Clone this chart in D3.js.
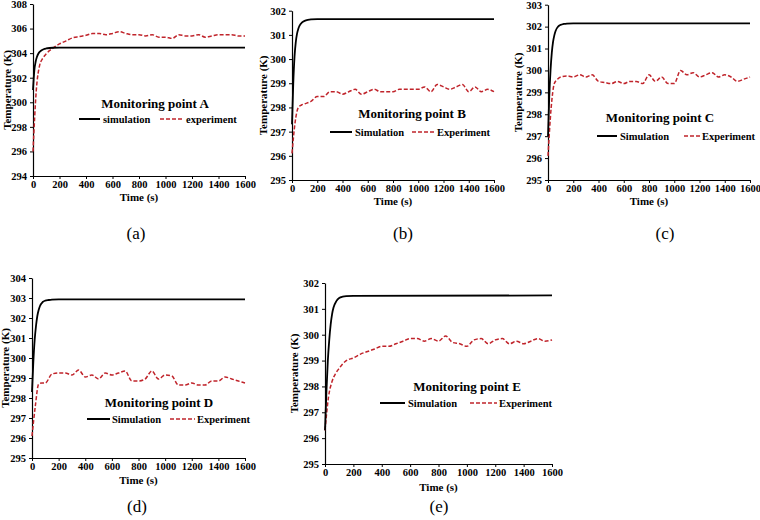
<!DOCTYPE html>
<html><head><meta charset="utf-8">
<script src="https://cdn.jsdelivr.net/npm/d3@7/dist/d3.min.js"></script>
<style>
html,body{margin:0;padding:0;background:#fff;}
svg text{font-family:"Liberation Serif","Times New Roman",serif;}
</style></head>
<body><svg id="c" width="760" height="520"></svg>
<script>
// ---------- data ----------
const panelIds = ["a","b","c","d","e"];
const titles = ["Monitoring point A","Monitoring point B","Monitoring point C","Monitoring point D","Monitoring point E"];
const simNames = ["simulation","Simulation","Simulation","Simulation","Simulation"];
const expNames = ["experiment","Experiment","Experiment","Experiment","Experiment"];
const xTicks = [0,200,400,600,800,1000,1200,1400,1600];
const yTicksA = [294,296,298,300,302,304,306,308];
const yTicksB = [295,296,297,298,299,300,301,302];
const yTicksC = [295,296,297,298,299,300,301,302,303];
const yTicksD = [295,296,297,298,299,300,301,302,303,304];
const yTicksE = [295,296,297,298,299,300,301,302];
const xLabel = "Time (s)";
const yLabel = "Temperature (K)";

const simTime = [0,10,20,30,40,50,60,80,100,125,150,200,1600];
const simA = [301.0,302.6,303.3,303.7,303.95,304.1,304.2,304.32,304.38,304.42,304.44,304.45,304.45];
const simB = [297.3,299.0,300.1,300.7,301.05,301.25,301.38,301.52,301.58,301.62,301.64,301.65,301.65];
const simC = [297.0,298.8,300.0,300.8,301.3,301.6,301.8,302.0,302.08,302.12,302.14,302.15,302.15];
const simD = [298.3,299.8,300.9,301.6,302.1,302.4,302.6,302.8,302.87,302.9,302.92,302.93,302.93];
const simE = [296.3,297.8,299.0,299.8,300.4,300.8,301.05,301.3,301.42,301.47,301.49,301.5,301.52];

const expTime = [0,25,50,75,100,150,200,250,300,350,400,450,500,550,600,650,700,750,800,850,900,950,1000,1050,1100,1150,1200,1250,1300,1350,1400,1450,1500,1550,1600];
const expA = [296.0,301.0,303.0,303.6,303.95,304.4,304.75,305.0,305.25,305.35,305.45,305.6,305.6,305.5,305.6,305.75,305.6,305.5,305.5,305.4,305.5,305.3,305.3,305.2,305.5,305.4,305.4,305.5,305.3,305.4,305.5,305.5,305.5,305.4,305.4];
const expB = [296.1,297.4,298.0,298.1,298.15,298.25,298.45,298.45,298.65,298.65,298.55,298.65,298.75,298.55,298.65,298.75,298.65,298.65,298.65,298.75,298.75,298.75,298.75,298.85,298.65,298.95,298.85,298.75,298.85,298.95,298.65,298.85,298.65,298.75,298.65];
const expC = [296.1,298.3,299.4,299.6,299.7,299.75,299.7,299.8,299.7,299.8,299.5,299.45,299.4,299.5,299.4,299.5,299.5,299.4,299.8,299.5,299.7,299.4,299.4,300.0,299.8,299.9,299.7,299.8,299.9,299.7,299.8,299.7,299.5,299.6,299.7];
const expD = [296.1,297.6,298.7,298.75,298.75,299.2,299.25,299.25,299.15,299.4,299.05,299.15,298.95,299.25,299.15,299.25,299.35,298.85,298.85,298.95,299.35,298.95,299.15,299.1,298.65,298.65,298.75,298.65,298.65,298.85,298.85,299.05,298.95,298.85,298.75];
const expE = [296.3,297.6,298.2,298.5,298.7,299.0,299.1,299.25,299.35,299.45,299.55,299.55,299.65,299.75,299.85,299.85,299.75,299.85,299.75,299.95,299.7,299.65,299.55,299.8,299.85,299.65,299.8,299.85,299.65,299.75,299.65,299.75,299.85,299.75,299.8];

// ---------- layout (positions only) ----------
const layout = [
  {x0:33, x1:245, yt:4,   yb:176, tx:155, ty:103, ly:119, s0:79,  s1:100, st:103, e0:160, e1:184, et:186, tl:197, ax:7,   sub:[136,233]},
  {x0:292,x1:494, yt:10.7,yb:180, tx:412, ty:113, ly:132, s0:330, s1:352, st:355, e0:412, e1:435, et:437, tl:201, ax:263, sub:[403,233]},
  {x0:548,x1:750, yt:4.7, yb:180, tx:660, ty:117, ly:136, s0:597, s1:617, st:620, e0:684, e1:700, et:702, tl:201, ax:518, sub:[665,233]},
  {x0:32, x1:245, yt:278, yb:458, tx:159, ty:402, ly:419, s0:87,  s1:110, st:112, e0:170, e1:195, et:197, tl:480, ax:5,   sub:[137,506]},
  {x0:325,x1:552, yt:283, yb:464, tx:467, ty:386, ly:403, s0:380, s1:405, st:408, e0:470, e1:497, et:499, tl:487, ax:294, sub:[439,506]}
];
const yTickSets = [yTicksA,yTicksB,yTicksC,yTicksD,yTicksE];
const sims = [simA,simB,simC,simD,simE];
const exps = [expA,expB,expC,expD,expE];
const EXP_COLOR = "#c0242b";

const svg = d3.select("#c");

panelIds.forEach((id,i)=>{
  const L = layout[i];
  const yt = yTickSets[i];
  const x = d3.scaleLinear().domain([0,1600]).range([L.x0,L.x1]);
  const y = d3.scaleLinear().domain([yt[0], yt[yt.length-1]]).range([L.yb,L.yt]);
  const g = svg.append("g");

  const ya = g.append("g").attr("transform",`translate(${L.x0},0)`)
    .call(d3.axisLeft(y).tickValues(yt).tickFormat(d3.format("d")).tickSize(3).tickSizeOuter(0).tickPadding(3));
  const xa = g.append("g").attr("transform",`translate(0,${L.yb})`)
    .call(d3.axisBottom(x).tickValues(xTicks).tickFormat(d3.format("d")).tickSize(3).tickSizeOuter(0).tickPadding(2));
  [ya,xa].forEach(a=>{
    a.selectAll("text").attr("font-size",10.5).attr("font-weight","bold").attr("fill","#000")
      .style("font-family","'Liberation Serif',serif");
    a.select(".domain").attr("stroke","#000").attr("stroke-width",1.2);
    a.selectAll(".tick line").attr("stroke","#000");
  });

  g.append("text").attr("x",(L.x0+L.x1)/2).attr("y",L.tl).attr("text-anchor","middle").attr("dominant-baseline","central")
    .attr("font-size",11).attr("font-weight","bold").text(xLabel);
  g.append("text").attr("transform",`translate(${L.ax},${(L.yt+L.yb)/2}) rotate(-90)`)
    .attr("text-anchor","middle").attr("dominant-baseline","central")
    .attr("font-size",11).attr("font-weight","bold").text(yLabel);

  const line = d3.line().x(d=>x(d[0])).y(d=>y(d[1])).curve(d3.curveMonotoneX);
  g.append("path").datum(expTime.map((t,k)=>[t,exps[i][k]])).attr("d",line)
    .attr("fill","none").attr("stroke",EXP_COLOR).attr("stroke-width",1.5).attr("stroke-dasharray","4,2");
  g.append("path").datum(simTime.map((t,k)=>[t,sims[i][k]])).attr("d",line)
    .attr("fill","none").attr("stroke","#000").attr("stroke-width",1.8);

  g.append("text").attr("x",L.tx).attr("y",L.ty).attr("text-anchor","middle").attr("dominant-baseline","central")
    .attr("font-size",13).attr("font-weight","bold").text(titles[i]);
  g.append("line").attr("x1",L.s0).attr("x2",L.s1).attr("y1",L.ly).attr("y2",L.ly)
    .attr("stroke","#000").attr("stroke-width",2);
  g.append("text").attr("x",L.st).attr("y",L.ly).attr("dominant-baseline","central")
    .attr("font-size",10.5).attr("font-weight","bold").text(simNames[i]);
  g.append("line").attr("x1",L.e0).attr("x2",L.e1).attr("y1",L.ly).attr("y2",L.ly)
    .attr("stroke",EXP_COLOR).attr("stroke-width",1.5).attr("stroke-dasharray","4,2");
  g.append("text").attr("x",L.et).attr("y",L.ly).attr("dominant-baseline","central")
    .attr("font-size",10.5).attr("font-weight","bold").text(expNames[i]);

  g.append("text").attr("x",L.sub[0]).attr("y",L.sub[1]).attr("text-anchor","middle").attr("dominant-baseline","central")
    .attr("font-size",17).text(`(${id})`);
});
</script></body></html>
